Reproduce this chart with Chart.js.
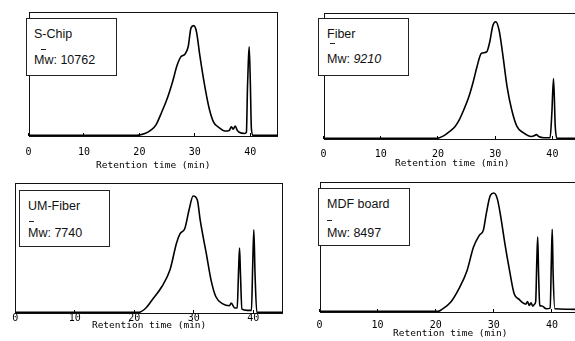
<!DOCTYPE html>
<html>
<head>
<meta charset="utf-8">
<script src="https://cdn.jsdelivr.net/npm/chart.js@4/dist/chart.umd.min.js"></script>
<style>
  html, body { margin: 0; padding: 0; background: #fff; }
  body { width: 575px; height: 341px; position: relative; overflow: hidden; }
  .pane { position: absolute; }
  .pane canvas { display: block; }
  .box {
    position: absolute; border: 1px solid #222; background: #fff; box-sizing: border-box;
    font-family: "Liberation Sans", Arial, sans-serif; font-size: 12.5px; color: #111;
  }
  .box .t { position: absolute; line-height: 14px; white-space: nowrap; }
  .box .bar { position: absolute; height: 1px; width: 5px; background: #222; }
</style>
</head>
<body>
<script>
// retention time (min) and detector signal (% of panel height)
var sChipTime   = [0, 19.5, 21, 22, 23, 24, 25, 26, 26.8, 27.5, 28.2, 28.8, 29.3, 29.8, 30.3, 30.9, 31.8, 32.6, 33.4, 34.3, 35.4, 36.2, 36.6, 36.9, 37.3, 37.6, 38, 39, 39.3, 39.5, 39.65, 39.8, 40.0, 40.2, 40.5, 45];
var sChipSignal = [0.5, 0.5, 2, 4.5, 9, 19, 30, 44, 57, 64, 66, 72, 87, 89, 84, 65, 40, 22, 11, 7, 4, 4.5, 7.5, 5.5, 8, 5, 3, 2, 3, 40, 60, 72, 45, 6, 0.5, 0.5];

var fiberTime   = [0, 19.8, 21, 22, 23, 23.7, 24.5, 25.4, 26.2, 26.8, 27.6, 28.5, 29.0, 29.6, 30.1, 30.7, 31.3, 32.1, 32.9, 33.8, 34.9, 36.3, 36.8, 37.2, 37.6, 38.5, 39.6, 39.9, 40.2, 40.5, 40.8, 45];
var fiberSignal = [0.5, 0.5, 2.5, 5.8, 10, 15, 23, 33.5, 46, 57, 68, 69, 76, 90, 93, 86, 68, 41, 23, 10, 5, 2, 2.5, 3.5, 2, 1, 1, 20, 48, 10, 0.5, 0.5];

var umFiberTime   = [0, 20.8, 22, 23, 24.6, 26, 27.1, 27.7, 28.5, 29.2, 29.9, 30.6, 31.1, 32.1, 32.9, 33.7, 34.9, 36.0, 36.3, 36.9, 37.3, 37.55, 37.7, 37.85, 38.1, 39.0, 39.7, 39.9, 40.1, 40.3, 40.6, 45];
var umFiberSignal = [0.5, 0.5, 4, 10, 20, 33, 53.6, 61, 65, 79, 90, 87, 71, 46, 25.5, 12.7, 7, 5.6, 7.6, 3.8, 4, 35, 50, 30, 3, 2, 2, 35, 64, 30, 0.5, 0.5];

var mdfTime   = [0, 20.4, 20.9, 22.6, 24.0, 25.4, 26.5, 27.5, 28.2, 28.7, 29.4, 30.0, 30.6, 31.2, 31.9, 32.7, 33.5, 34.4, 35.0, 35.5, 35.8, 36.1, 36.4, 36.7, 37.0, 37.2, 37.4, 37.55, 37.7, 37.9, 38.3, 39.0, 39.7, 39.9, 40.05, 40.2, 40.5, 45];
var mdfSignal = [0.5, 0.5, 1.5, 7.7, 18, 32, 50, 59, 63, 75.7, 89.7, 91.5, 87, 73, 52.6, 32, 14, 9.5, 7, 6, 8, 5, 7, 4.5, 6, 8, 40, 57.7, 30, 5, 4.6, 2.5, 3, 40, 63.6, 30, 2.5, 2];

var tickVals = [0, 10, 20, 30, 40];
var xTitle = 'Retention time (min)';

var panels = [
  { name: 'S-Chip',    mw: '10762', italic: false, t: sChipTime,   s: sChipSignal,
    c: { l: 12, t: 10, w: 268, h: 161, axisH: 35, pad: 13.5 },
    b: { l: 26, t: 18, w: 91, h: 58, tx: 7, y1: 8, y2: 34, ol: 30, ox: 7 } },
  { name: 'Fiber',     mw: '9210',  italic: true,  t: fiberTime,   s: fiberSignal,
    c: { l: 308, t: 11, w: 275, h: 158, axisH: 30, pad: 12.5 },
    b: { l: 318, t: 18, w: 91, h: 58, tx: 8, y1: 8, y2: 33, ol: 24, ox: 3 } },
  { name: 'UM-Fiber',  mw: '7740',  italic: false, t: umFiberTime, s: umFiberSignal,
    c: { l: 10, t: 181, w: 275, h: 150, axisH: 18, pad: 2.2 },
    b: { l: 19, t: 190, w: 91, h: 57, tx: 8, y1: 8, y2: 35, ol: 30, ox: 1 } },
  { name: 'MDF board', mw: '8497',  italic: false, t: mdfTime,     s: mdfSignal,
    c: { l: 306, t: 180, w: 277, h: 159, axisH: 27, pad: 10.5 },
    b: { l: 318, t: 188, w: 92, h: 58, tx: 8, y1: 8, y2: 37, ol: 31, ox: 0 } }
];

// plot frame (all four sides)
var framePlugin = {
  id: 'frame',
  beforeDatasetsDraw: function (chart) {
    var a = chart.chartArea, ctx = chart.ctx;
    ctx.save();
    ctx.strokeStyle = '#111';
    ctx.lineWidth = 1;
    ctx.strokeRect(Math.round(a.left) + 0.5, Math.round(a.top) + 0.5,
      Math.round(a.right - a.left) - 1, Math.round(a.bottom - a.top));
    ctx.restore();
  }
};

var tickFont = { family: '"DejaVu Sans Mono", "Liberation Mono", monospace', size: 10 };
var titleFont = { family: '"DejaVu Sans Mono", "Liberation Mono", monospace', size: 9.5 };

panels.forEach(function (p) {
  var wrap = document.createElement('div');
  wrap.className = 'pane';
  wrap.style.left = p.c.l + 'px';
  wrap.style.top = p.c.t + 'px';
  var cv = document.createElement('canvas');
  cv.width = p.c.w;
  cv.height = p.c.h;
  wrap.appendChild(cv);
  document.body.appendChild(wrap);

  new Chart(cv.getContext('2d'), {
    type: 'line',
    data: {
      datasets: [{
        data: p.t.map(function (x, i) { return { x: x, y: p.s[i] }; }),
        borderColor: '#000', borderWidth: 1.6, pointRadius: 0,
        cubicInterpolationMode: 'monotone', fill: false
      }]
    },
    options: {
      responsive: false, animation: false, devicePixelRatio: 1,
      layout: { padding: { left: 2, right: 2, top: 2, bottom: 0 } },
      plugins: { legend: { display: false }, tooltip: { enabled: false } },
      scales: {
        x: {
          type: 'linear', min: 0, max: 45,
          afterBuildTicks: function (s) { s.ticks = tickVals.map(function (v) { return { value: v }; }); },
          afterFit: function (s) { s.height = p.c.axisH; },
          border: { display: false },
          grid: { drawOnChartArea: false, drawTicks: true, tickLength: -3, color: '#000' },
          ticks: { color: '#000', font: tickFont, padding: p.c.pad, maxRotation: 0 },
          title: { display: true, text: xTitle, color: '#000', font: titleFont, padding: 0 }
        },
        y: { display: false, min: 0, max: 100 }
      }
    },
    plugins: [framePlugin]
  });

  // sample label box
  var box = document.createElement('div');
  box.className = 'box';
  box.style.left = p.b.l + 'px';
  box.style.top = p.b.t + 'px';
  box.style.width = p.b.w + 'px';
  box.style.height = p.b.h + 'px';
  box.innerHTML =
    '<div class="t" style="left:' + p.b.tx + 'px;top:' + p.b.y1 + 'px">' + p.name + '</div>' +
    '<div class="bar" style="left:' + (p.b.tx + p.b.ox) + 'px;top:' + p.b.ol + 'px"></div>' +
    '<div class="t" style="left:' + p.b.tx + 'px;top:' + p.b.y2 + 'px">Mw: ' +
      (p.italic ? '<i>' + p.mw + '</i>' : p.mw) + '</div>';
  document.body.appendChild(box);
});
</script>
</body>
</html>
